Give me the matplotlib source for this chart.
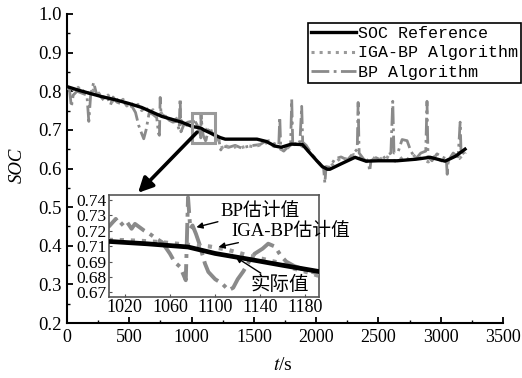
import matplotlib
matplotlib.use('Agg')
import matplotlib.pyplot as plt
from matplotlib.patches import Rectangle

plt.rcParams['mathtext.fontset'] = 'stix'

# ---------------- data ----------------
t_ref = [0, 100, 200, 280, 400, 500, 600, 760, 920, 1006,
         1040, 1076, 1100, 1130, 1160, 1192, 1230, 1270, 1400, 1525,
         1600, 1670, 1720, 1800, 1890, 1950, 2000, 2050, 2090, 2110,
         2200, 2312, 2400, 2500, 2650, 2800, 2915, 3035, 3120, 3195]
soc_ref = [0.812, 0.802, 0.793, 0.786, 0.777, 0.768, 0.758, 0.735, 0.720, 0.7086,
           0.7068, 0.7044, 0.6995, 0.6951, 0.6905, 0.6858, 0.680, 0.676, 0.676, 0.676,
           0.670, 0.658, 0.655, 0.663, 0.662, 0.640, 0.622, 0.605, 0.598, 0.598,
           0.612, 0.629, 0.619, 0.620, 0.620, 0.624, 0.629, 0.619, 0.632, 0.650]

t_iga = [0, 30, 60, 90, 120, 150, 180, 210, 240, 270,
         300, 330, 360, 390, 420, 450, 480, 510, 540, 570,
         600, 630, 660, 690, 720, 750, 780, 810, 840, 870,
         900, 930, 960, 990, 1006, 1020, 1035, 1050, 1065, 1080,
         1095, 1110, 1125, 1140, 1155, 1170, 1185, 1200, 1230, 1250,
         1280, 1320, 1360, 1400, 1450, 1500, 1550, 1600, 1650, 1700,
         1750, 1800, 1850, 1900, 1950, 2000, 2030, 2060, 2100, 2150,
         2200, 2250, 2300, 2350, 2400, 2450, 2500, 2550, 2600, 2650,
         2700, 2750, 2800, 2850, 2900, 2950, 3000, 3050, 3100, 3150,
         3200]
soc_iga = [0.805, 0.814, 0.800, 0.810, 0.796, 0.806, 0.792, 0.803, 0.790, 0.798,
           0.780, 0.790, 0.772, 0.784, 0.770, 0.779, 0.762, 0.772, 0.758, 0.766,
           0.750, 0.760, 0.744, 0.752, 0.736, 0.748, 0.730, 0.738, 0.724, 0.733,
           0.718, 0.727, 0.712, 0.719, 0.7098, 0.7096, 0.7090, 0.7082, 0.7070, 0.7058,
           0.7048, 0.7025, 0.6990, 0.6958, 0.6928, 0.6880, 0.6845, 0.680, 0.668, 0.650,
           0.658, 0.652, 0.657, 0.654, 0.659, 0.656, 0.661, 0.667, 0.659, 0.652,
           0.648, 0.661, 0.666, 0.655, 0.641, 0.624, 0.612, 0.604, 0.600, 0.616,
           0.627, 0.624, 0.636, 0.628, 0.619, 0.629, 0.620, 0.633, 0.624, 0.617,
           0.631, 0.622, 0.636, 0.624, 0.617, 0.631, 0.621, 0.614, 0.633, 0.626,
           0.642]

t_bp = [0, 20, 35, 50, 80, 120, 160, 175, 190, 214,
        235, 260, 300, 330, 350, 370, 400, 430, 460, 490,
        520, 550, 575, 600, 616, 635, 660, 690, 720, 735,
        742, 748, 755, 790, 820, 850, 880, 900, 908, 915,
        940, 970, 1000, 1006, 1012, 1016, 1021, 1026, 1029, 1037,
        1042, 1046, 1053, 1057, 1060, 1064, 1069, 1074, 1076, 1078,
        1080, 1083, 1086, 1091, 1094, 1100, 1106, 1112, 1116, 1120,
        1125, 1130, 1135, 1142, 1147, 1153, 1158, 1163, 1170, 1180,
        1192, 1200, 1220, 1235, 1250, 1300, 1350, 1400, 1450, 1500,
        1550, 1580, 1620, 1660, 1700, 1708, 1716, 1740, 1770, 1795,
        1804, 1812, 1840, 1870, 1884, 1892, 1920, 1950, 1990, 2030,
        2060, 2070, 2080, 2110, 2150, 2200, 2250, 2300, 2330, 2337,
        2345, 2380, 2420, 2430, 2440, 2480, 2520, 2560, 2600, 2615,
        2625, 2660, 2690, 2730, 2760, 2800, 2840, 2880, 2890, 2898,
        2930, 2970, 3010, 3045, 3052, 3060, 3100, 3140, 3156, 3164,
        3200]
soc_bp = [0.800, 0.805, 0.760, 0.790, 0.800, 0.795, 0.790, 0.722, 0.790, 0.823,
          0.795, 0.790, 0.775, 0.780, 0.765, 0.785, 0.772, 0.768, 0.770, 0.760,
          0.762, 0.745, 0.712, 0.690, 0.677, 0.700, 0.745, 0.740, 0.732, 0.690,
          0.686, 0.784, 0.740, 0.735, 0.725, 0.720, 0.722, 0.700, 0.781, 0.695,
          0.715, 0.720, 0.722, 0.7200, 0.7257, 0.7207, 0.7245, 0.7182, 0.7219, 0.7169,
          0.7144, 0.7119, 0.7080, 0.7031, 0.6993, 0.6931, 0.6893, 0.6792, 0.7420, 0.7182,
          0.7207, 0.7144, 0.7069, 0.6918, 0.6855, 0.6800, 0.6768, 0.6717, 0.6735, 0.6800,
          0.6860, 0.6933, 0.6993, 0.7031, 0.7069, 0.7047, 0.6980, 0.6933, 0.6900, 0.6870,
          0.6840, 0.680, 0.672, 0.648, 0.658, 0.655, 0.660, 0.653, 0.657, 0.660,
          0.662, 0.668, 0.672, 0.665, 0.660, 0.733, 0.650, 0.645, 0.655, 0.660,
          0.779, 0.665, 0.660, 0.670, 0.761, 0.668, 0.660, 0.645, 0.625, 0.610,
          0.600, 0.562, 0.605, 0.603, 0.625, 0.630, 0.622, 0.640, 0.650, 0.771,
          0.640, 0.625, 0.615, 0.593, 0.620, 0.628, 0.622, 0.632, 0.640, 0.774,
          0.640, 0.645, 0.675, 0.672, 0.645, 0.625, 0.640, 0.645, 0.774, 0.630,
          0.620, 0.638, 0.630, 0.625, 0.585, 0.620, 0.640, 0.630, 0.720, 0.635,
          0.645]

legend_labels = ['SOC Reference', 'IGA-BP Algorithm', 'BP Algorithm']
x_ticks = [0, 500, 1000, 1500, 2000, 2500, 3000, 3500]
y_ticks = [0.2, 0.3, 0.4, 0.5, 0.6, 0.7, 0.8, 0.9, 1.0]
inset_x_ticks = [1020, 1060, 1100, 1140, 1180]
inset_y_ticks = [0.67, 0.68167, 0.69333, 0.705, 0.71667, 0.72833, 0.74]
inset_y_labels = ['0.67', '0.68', '0.69', '0.71', '0.72', '0.73', '0.74']
inset_xlim = (1006, 1192)
inset_ylim = (0.6665, 0.7438)
note_labels = ['BP估计值', 'IGA-BP估计值', '实际值']

SERIF = 'Liberation Serif'
CJK = [SERIF, 'Noto Sans CJK SC']
C_IGA = '#9a9a9a'
C_BP = '#8a8a8a'

W, H = 522, 378
fig = plt.figure(figsize=(W / 100, H / 100), dpi=100)
ax = fig.add_axes([67 / W, 1 - 323 / H, 436 / W, 309 / H])

l1, = ax.plot(t_ref, soc_ref, color='black', lw=2.4, zorder=4)
l2, = ax.plot(t_iga, soc_iga, color=C_IGA, lw=2.2, ls=':', zorder=3)
l3, = ax.plot(t_bp, soc_bp, color=C_BP, lw=2.0, ls='-.', zorder=2)

ax.set_xlim(0, 3500)
ax.set_ylim(0.2, 1.0)
ax.set_xticks(x_ticks)
ax.set_yticks(y_ticks)
ax.set_xticks([250 + 500 * i for i in range(7)], minor=True)
ax.set_yticks([0.25 + 0.1 * i for i in range(8)], minor=True)
ax.set_xticklabels([str(v) for v in x_ticks], family=SERIF, fontsize=13)
ax.set_yticklabels(['%.1f' % v for v in y_ticks], family=SERIF, fontsize=13.5)
ax.tick_params(which='major', direction='in', length=4, width=1.3, pad=4)
ax.tick_params(which='minor', direction='in', length=2.5, width=1.0)
for s in ['top', 'right']:
    ax.spines[s].set_visible(False)
for s in ['left', 'bottom']:
    ax.spines[s].set_linewidth(1.5)

ax.set_ylabel('SOC', family=SERIF, style='italic', fontsize=13.5)
ax.yaxis.set_label_coords(-0.095, 0.51)
ax.set_xlabel(r'$t$/s', family=SERIF, fontsize=14)
ax.xaxis.set_label_coords(0.495, -0.11)

# zoom rectangle
ax.add_patch(Rectangle((inset_xlim[0], inset_ylim[0]), inset_xlim[1] - inset_xlim[0],
                       inset_ylim[1] - inset_ylim[0], fill=False, ec='#9a9a9a', lw=2.2, zorder=5))
ax.annotate('', xy=(570, 0.537), xytext=(1044, 0.694),
            arrowprops=dict(arrowstyle='-|>', color='black', lw=2.6, mutation_scale=22,
                            shrinkA=0, shrinkB=0), zorder=6)

leg = fig.legend([l1, l2, l3], legend_labels, loc='upper left',
                 bbox_to_anchor=(308 / W, 1 - 23 / H), bbox_transform=fig.transFigure,
                 prop={'family': 'Liberation Mono', 'size': 12}, frameon=True, fancybox=False,
                 edgecolor='black', framealpha=1, borderpad=0.2, labelspacing=0.25,
                 handlelength=2.7, handletextpad=0.1, borderaxespad=0)
leg.get_frame().set_linewidth(1.2)

# inset
axi = fig.add_axes([109 / W, 1 - 297 / H, 210 / W, 102 / H])
axi.plot(t_ref, soc_ref, color='black', lw=3.4, zorder=4)
axi.plot(t_iga, soc_iga, color=C_IGA, lw=3.0, ls=':', zorder=3)
axi.plot(t_bp, soc_bp, color=C_BP, lw=2.8, ls='-.', zorder=2)
axi.set_xlim(*inset_xlim)
axi.set_ylim(*inset_ylim)
axi.set_xticks(inset_x_ticks)
axi.set_xticklabels([str(v) for v in inset_x_ticks], family=SERIF, fontsize=13)
axi.set_yticks(inset_y_ticks)
axi.set_yticklabels(inset_y_labels, family=SERIF, fontsize=12.5)
axi.tick_params(direction='in', length=2, width=0.8, pad=1.5, color='#555555')
for s in axi.spines.values():
    s.set_color('#555555')
    s.set_linewidth(1.2)

axi.annotate(note_labels[0], xy=(1083.4, 0.7194), xytext=(1140, 0.7317),
             ha='center', va='center', family=CJK, fontsize=13.5,
             arrowprops=dict(arrowstyle='-|>', color='black', lw=1.0, mutation_scale=9,
                             shrinkA=22, shrinkB=0), annotation_clip=False)
axi.annotate(note_labels[1], xy=(1103, 0.7044), xytext=(1167, 0.7163),
             ha='center', va='center', family=CJK, fontsize=13.5,
             arrowprops=dict(arrowstyle='-|>', color='black', lw=1.0, mutation_scale=9,
                             shrinkA=50, shrinkB=0), annotation_clip=False)
axi.annotate(note_labels[2], xy=(1118, 0.6969), xytext=(1157, 0.6755),
             ha='center', va='center', family=CJK, fontsize=14,
             arrowprops=dict(arrowstyle='-|>', color='black', lw=1.0, mutation_scale=9,
                             shrinkA=25, shrinkB=0), annotation_clip=False)

fig.savefig('out.png', dpi=100)
